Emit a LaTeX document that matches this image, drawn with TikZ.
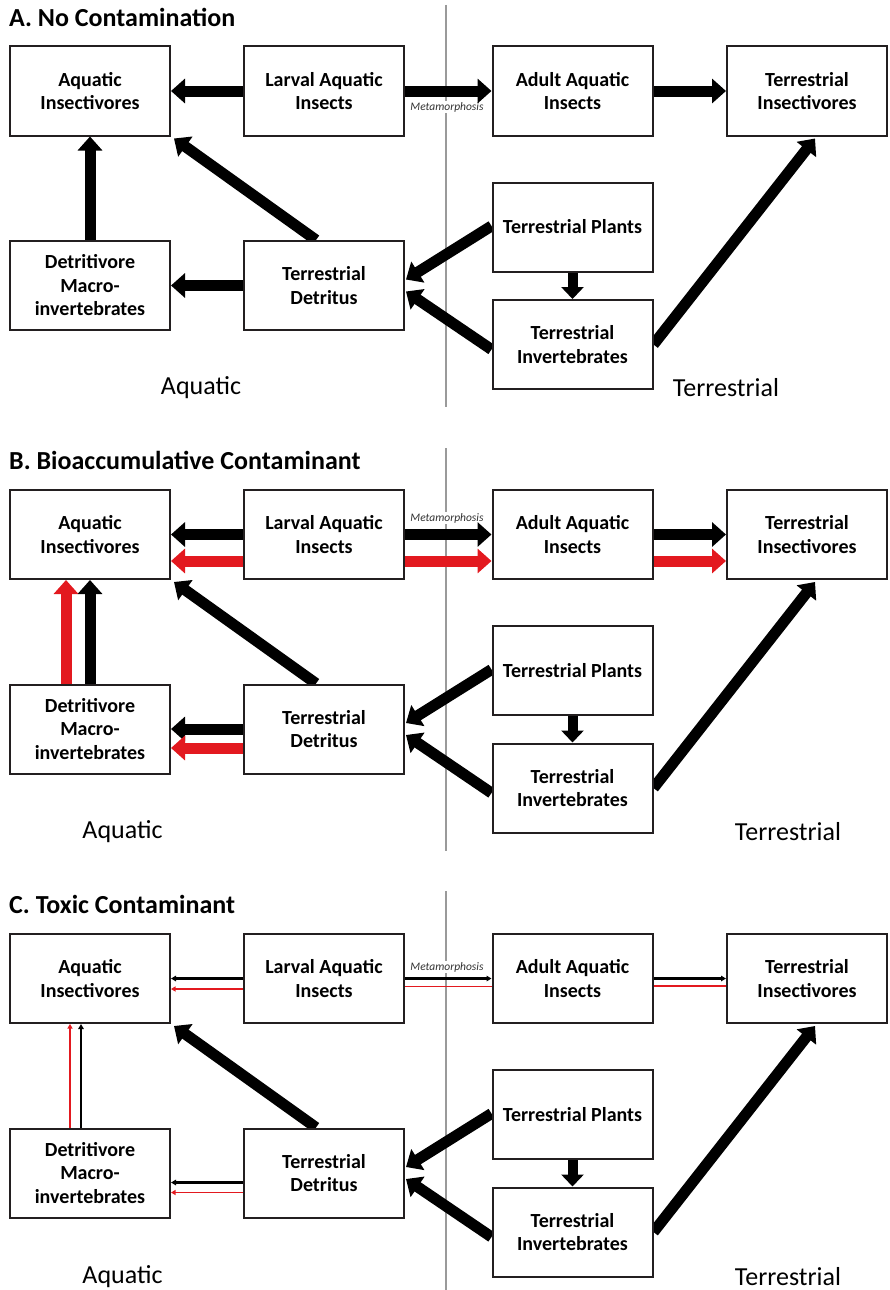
\documentclass[tikz,border=0pt]{standalone}
\usepackage{fontspec}
\setmainfont{Carlito}
\usetikzlibrary{arrows.meta,backgrounds}

\definecolor{boxline}{HTML}{231F20}
\definecolor{flowred}{HTML}{E3191F}
\definecolor{divgray}{HTML}{9A9A9A}
\definecolor{labelgray}{HTML}{333333}

\tikzset{
  taxon/.style={draw=boxline, fill=white, line width=2pt, minimum width=160pt,
    minimum height=89pt, inner sep=0pt, align=center,
    font=\fontsize{20}{23.5}\selectfont\bfseries},
  flow/.style={line width=11pt, color=black, -{Triangle[length=14pt,width=24pt]}},
  redflow/.style={flow, color=flowred},
  flowshort/.style={line width=10pt, color=black, -{Triangle[length=12pt,width=22pt]}},
  thinflow/.style={line width=2.3pt, color=black, -{Triangle[length=5pt,width=5.5pt]}},
  thinred/.style={line width=1.9pt, color=flowred, -{Triangle[length=4.5pt,width=5pt]}},
  hairred/.style={line width=1.2pt, color=flowred},
  divider/.style={draw=divgray, line width=1.6pt},
  metalabel/.style={fill=white, inner sep=1pt, text=labelgray,
    font=\fontsize{11.5}{13}\selectfont\itshape},
  sidelabel/.style={inner sep=0pt, font=\fontsize{26}{30}\selectfont},
  paneltitle/.style={anchor=west, inner sep=0pt, font=\fontsize{26}{30}\selectfont\bfseries},
}

% the eight compartments of one food web, named with a panel prefix
\newcommand\webboxes[1]{%
  \node[taxon] (#1-ai) at (90,91) {Aquatic\\Insectivores};
  \node[taxon] (#1-la) at (324,91) {Larval Aquatic\\Insects};
  \node[taxon] (#1-ad) at (572.5,91) {Adult Aquatic\\Insects};
  \node[taxon] (#1-ti) at (807,91) {Terrestrial\\Insectivores};
  \node[taxon] (#1-dm) at (90,285.5) {Detritivore\\Macro-\\invertebrates};
  \node[taxon] (#1-td) at (324,285.5) {Terrestrial\\Detritus};
  \node[taxon] (#1-tp) at (572.5,227) {Terrestrial Plants};
  \node[taxon] (#1-tv) at (572.5,344.5) {Terrestrial\\Invertebrates};
}

% links that are drawn as thick black arrows in every panel
\newcommand\commonflows[1]{%
  \draw[flow] ([xshift=-8pt]#1-td.north) -- ([shift={(3,2)}]#1-ai.south east);
  \draw[flow] ([shift={(0,-1)}]#1-tp.west) -- ([shift={(1,-6)}]#1-td.east);
  \draw[flow] ([shift={(0,5)}]#1-tv.west) -- ([shift={(1,6)}]#1-td.east);
  \draw[flowshort] (#1-tp.south) -- (#1-tv.north);
  \draw[flow] (#1-tv.east) -- ([shift={(8,2)}]#1-ti.south);
}

\begin{document}
\begin{tikzpicture}[x=1pt,y=-1pt]
\useasboundingbox (0,0) rectangle (889,1290);

% ---------------- A. No Contamination ----------------
\begin{scope}
  \webboxes{A}
  \node[paneltitle] (A-title) at (9,17) {A. No Contamination};
  \node[sidelabel] (A-aq) at (201,388) {Aquatic};
  \node[sidelabel] (A-te) at (726,388) {Terrestrial};
  \begin{scope}[on background layer]
    \draw[divider] (446,5) -- (446,407);
    \node[metalabel] (A-meta) at (447,107) {Metamorphosis};
    \draw[flow] (A-la.west) -- (A-ai.east);
    \draw[flow] (A-la.east) -- (A-ad.west);
    \draw[flow] (A-ad.east) -- (A-ti.west);
    \draw[flow] (A-dm.north) -- (A-ai.south);
    \draw[flow] (A-td.west) -- (A-dm.east);
    \commonflows{A}
  \end{scope}
\end{scope}

% ---------------- B. Bioaccumulative Contaminant ----------------
\begin{scope}[yshift=-443.5pt]
  \webboxes{B}
  \node[paneltitle] (B-title) at (9,16.5) {B. Bioaccumulative Contaminant};
  \node[sidelabel] (B-aq) at (122.5,388.5) {Aquatic};
  \node[sidelabel] (B-te) at (788,388.5) {Terrestrial};
  \begin{scope}[on background layer]
    \draw[divider] (446,4.5) -- (446,407.5);
    \node[metalabel] (B-meta) at (447,74.5) {Metamorphosis};
    \draw[flow] (B-la.west) -- (B-ai.east);
    \draw[redflow] ([shift={(0,26.5)}]B-la.west) -- ([shift={(0,26.5)}]B-ai.east);
    \draw[flow] (B-la.east) -- (B-ad.west);
    \draw[redflow] ([shift={(0,26.5)}]B-la.east) -- ([shift={(0,26.5)}]B-ad.west);
    \draw[flow] (B-ad.east) -- (B-ti.west);
    \draw[redflow] ([shift={(0,26.5)}]B-ad.east) -- ([shift={(0,26.5)}]B-ti.west);
    \draw[flow] (B-dm.north) -- (B-ai.south);
    \draw[redflow] ([shift={(-24,0)}]B-dm.north) -- ([shift={(-24,0)}]B-ai.south);
    \draw[flow] (B-td.west) -- (B-dm.east);
    \draw[redflow] ([shift={(0,19)}]B-td.west) -- ([shift={(0,19)}]B-dm.east);
    \commonflows{B}
  \end{scope}
\end{scope}

% ---------------- C. Toxic Contaminant ----------------
\begin{scope}[yshift=-887.5pt]
  \webboxes{C}
  \node[paneltitle] (C-title) at (9,16.5) {C. Toxic Contaminant};
  \node[sidelabel] (C-aq) at (122.5,389.5) {Aquatic};
  \node[sidelabel] (C-te) at (788,389.5) {Terrestrial};
  \begin{scope}[on background layer]
    \draw[divider] (446,3.5) -- (446,403);
    \node[metalabel] (C-meta) at (447,79.5) {Metamorphosis};
    \draw[thinflow] (C-la.west) -- (C-ai.east);
    \draw[thinred] ([shift={(0,10.5)}]C-la.west) -- ([shift={(0,10.5)}]C-ai.east);
    \draw[thinflow] (C-la.east) -- (C-ad.west);
    \draw[hairred] ([shift={(0,8)}]C-la.east) -- ([shift={(0,8)}]C-ad.west);
    \draw[thinflow] (C-ad.east) -- (C-ti.west);
    \draw[hairred] ([shift={(0,7.5)}]C-ad.east) -- ([shift={(0,7.5)}]C-ti.west);
    \draw[thinflow] ([shift={(-9,0)}]C-dm.north) -- ([shift={(-9,0)}]C-ai.south);
    \draw[thinred] ([shift={(-20,0)}]C-dm.north) -- ([shift={(-20,0)}]C-ai.south);
    \draw[thinflow] ([shift={(0,9.5)}]C-td.west) -- ([shift={(0,9.5)}]C-dm.east);
    \draw[thinred] ([shift={(0,19.5)}]C-td.west) -- ([shift={(0,19.5)}]C-dm.east);
    \commonflows{C}
  \end{scope}
\end{scope}
\end{tikzpicture}
\end{document}
